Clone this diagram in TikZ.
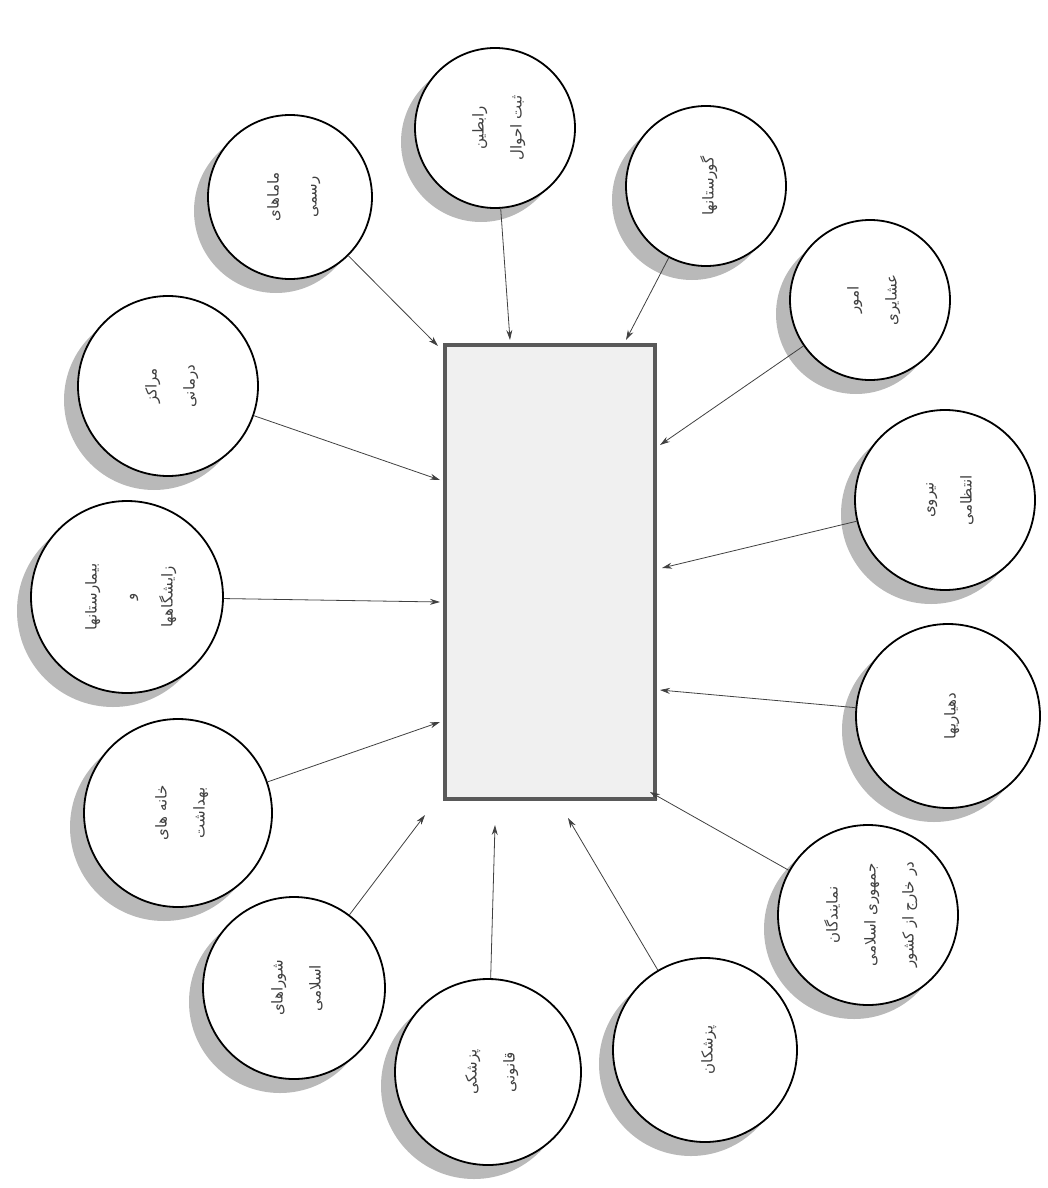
\documentclass[tikz,border=0pt]{standalone}
\usepackage{fontspec}
\newfontfamily\arabicfont[Script=Arabic]{DejaVu Sans}
\TeXXeTstate=1
\usetikzlibrary{arrows.meta, shadows}

\newcommand{\rl}[1]{\beginR #1\endR}
\newcommand{\circtext}[1]{\rotatebox{90}{\arabicfont\fontsize{7.5}{19}\selectfont\color{black!75}\begin{tabular}{@{}c@{}}#1\end{tabular}}}

\begin{document}
\begin{tikzpicture}[
    x=0.5pt, y=-0.5pt,
    >=Stealth,
    circ/.style={circle, draw=black, line width=0.9pt, fill=white, minimum size=#1, inner sep=0pt,
        drop shadow={shadow xshift=-7pt, shadow yshift=-7pt, fill=gray!55, opacity=1}},
    center/.style={rectangle, draw=black!65, line width=2.2pt, fill=gray!12, minimum width=105pt, minimum height=227pt},
    arrow/.style={-{Stealth[length=5pt, width=3pt]}, line width=0.4pt, draw=black!75}
]
\useasboundingbox (0,0) rectangle (1048,1188);

% central box
\node[center] (reg) at (550,572) {};

% surrounding circles
\node[circ=82pt] (mama) at (290,197) {\circtext{\rl{ماماهای}\\\rl{رسمی}}};
\node[circ=80pt] (rabet) at (495,128) {\circtext{\rl{رابطین}\\\rl{ثبت احوال}}};
\node[circ=80pt] (gor) at (706,186) {\circtext{\rl{گورستانها}}};
\node[circ=80pt] (ashayer) at (870,300) {\circtext{\rl{امور}\\\rl{عشایری}}};
\node[circ=90pt] (entezami) at (945,500) {\circtext{\rl{نیروی}\\\rl{انتظامی}}};
\node[circ=92pt] (dehyari) at (948,716) {\circtext{\rl{دهیاریها}}};
\node[circ=90pt] (namayande) at (868,915) {\circtext{\rl{نمایندگان}\\\rl{جمهوری اسلامی}\\\rl{در خارج از کشور}}};
\node[circ=92pt] (pezeshk) at (705,1050) {\circtext{\rl{پزشکان}}};
\node[circ=93pt] (ghanooni) at (488,1072) {\circtext{\rl{پزشکی}\\\rl{قانونی}}};
\node[circ=91pt] (shora) at (294,988) {\circtext{\rl{شوراهای}\\\rl{اسلامی}}};
\node[circ=94pt] (behdasht) at (178,813) {\circtext{\rl{خانه های}\\\rl{بهداشت}}};
\node[circ=96pt] (bimarestan) at (127,597) {\circtext{\rl{بیمارستانها}\\\rl{و}\\\rl{زایشگاهها}}};
\node[circ=90pt] (markaz) at (168,386) {\circtext{\rl{مراکز}\\\rl{درمانی}}};

% arrow ends on the box
\coordinate (e1) at (438,346);
\coordinate (e2) at (510,340);
\coordinate (e3) at (626,340);
\coordinate (e4) at (660,445);
\coordinate (e5) at (662,568);
\coordinate (e6) at (660,690);
\coordinate (e7) at (650,792);
\coordinate (e8) at (568,818);
\coordinate (e9) at (495,825);
\coordinate (e10) at (425,815);
\coordinate (e11) at (440,722);
\coordinate (e12) at (440,602);
\coordinate (e13) at (440,480);

\draw[arrow] (mama) -- (e1);
\draw[arrow] (rabet) -- (e2);
\draw[arrow] (gor) -- (e3);
\draw[arrow] (ashayer) -- (e4);
\draw[arrow] (entezami) -- (e5);
\draw[arrow] (dehyari) -- (e6);
\draw[arrow] (namayande) -- (e7);
\draw[arrow] (pezeshk) -- (e8);
\draw[arrow] (ghanooni) -- (e9);
\draw[arrow] (shora) -- (e10);
\draw[arrow] (behdasht) -- (e11);
\draw[arrow] (bimarestan) -- (e12);
\draw[arrow] (markaz) -- (e13);
\end{tikzpicture}
\end{document}
